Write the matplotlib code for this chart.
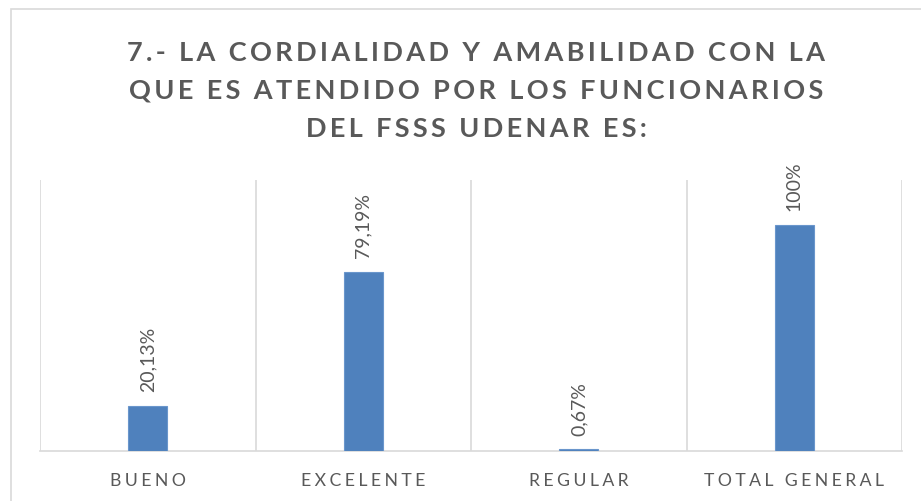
import matplotlib
matplotlib.use("Agg")
import matplotlib.pyplot as plt
from matplotlib.patches import Rectangle

categories = ["BUENO", "EXCELENTE", "REGULAR", "TOTAL GENERAL"]
values = [0.2013, 0.7919, 0.0067, 1.0]
labels = ["20,13%", "79,19%", "0,67%", "100%"]
title_lines = ["7.- LA CORDIALIDAD Y AMABILIDAD CON LA",
               "QUE ES ATENDIDO POR LOS FUNCIONARIOS",
               "DEL FSSS UDENAR ES:"]

W, H = 921, 501
fig = plt.figure(figsize=(W / 100, H / 100), dpi=100)
fig.patch.set_facecolor("white")

# chart border (partially cropped)
fig.add_artist(Rectangle((11 / W, -0.05), 1.2, (H - 9) / H + 0.05, transform=fig.transFigure,
                         fill=False, edgecolor="#D9D9D9", linewidth=1.2))

def spaced(s, sep="\u200a"):
    return sep.join(s)

fam = ["Lato", "DejaVu Sans"]
grey = "#595959"

ax = fig.add_axes([40 / W, (H - 451) / H, (902 - 40) / W, (451 - 180) / H])
x = list(range(len(categories)))
ax.bar(x, values, width=0.18, color="#4F81BD", edgecolor="#6A96CC", linewidth=0.8, zorder=3)
ax.set_xlim(-0.5, len(categories) - 0.5)
ax.set_ylim(0, 1.2)
for b in [i - 0.5 for i in range(len(categories) + 1)]:
    ax.axvline(b, color="#D9D9D9", linewidth=1.2, zorder=1)
for s in ["top", "right", "left"]:
    ax.spines[s].set_visible(False)
ax.spines["bottom"].set_color("#D9D9D9")
ax.spines["bottom"].set_linewidth(1.2)
ax.set_yticks([])
ax.set_xticks(x)
ax.set_xticklabels([spaced(c, "\u2009\u200a") for c in categories], family=fam, fontsize=12.7, color=grey)
ax.tick_params(axis="x", length=0, pad=16)

for xi, v, lab in zip(x, values, labels):
    ax.annotate(lab, (xi, v), xytext=(0, 10), textcoords="offset points",
                rotation=90, ha="center", va="bottom", fontsize=14, color=grey, family=fam)

baselines = [61, 98, 137]
for line, y in zip(title_lines, baselines):
    fig.text(476 / W, 1 - y / H, spaced(line, "\u2009"), ha="center", va="baseline",
             fontsize=19.5, fontweight="bold", color=grey, family=fam)

fig.savefig("out.png", dpi=100)
